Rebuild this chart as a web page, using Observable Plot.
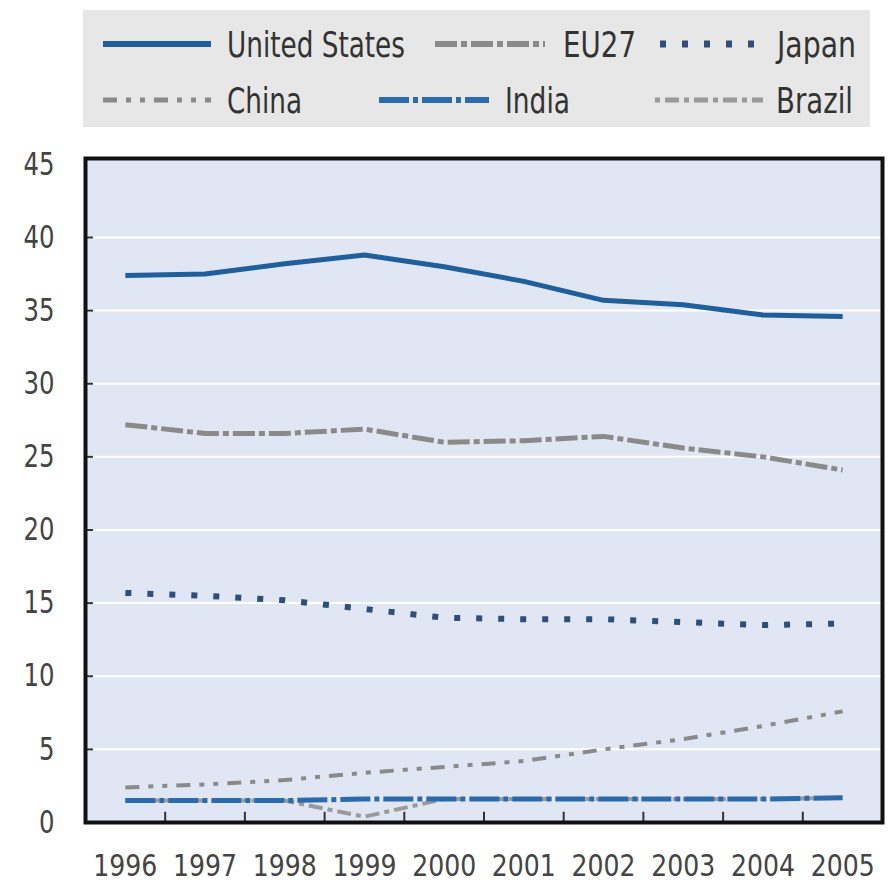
<!DOCTYPE html>
<html>
<head>
<meta charset="utf-8">
<script src="https://cdn.jsdelivr.net/npm/d3@7"></script>
<script src="https://cdn.jsdelivr.net/npm/@observablehq/plot@0.6"></script>
<style>
  html, body { margin: 0; padding: 0; background: #ffffff; }
  #legend, #chart { display: block; }
</style>
</head>
<body>
<div id="legend"></div>
<div id="chart"></div>
<script>
const years = [1996, 1997, 1998, 1999, 2000, 2001, 2002, 2003, 2004, 2005];
const unitedStates = [37.4, 37.5, 38.2, 38.8, 38.0, 37.0, 35.7, 35.4, 34.7, 34.6];
const eu27 = [27.2, 26.6, 26.6, 26.9, 26.0, 26.1, 26.4, 25.6, 25.0, 24.1];
const japan = [15.7, 15.5, 15.2, 14.6, 14.0, 13.9, 13.9, 13.7, 13.5, 13.6];
const china = [2.4, 2.6, 2.9, 3.4, 3.8, 4.2, 5.0, 5.7, 6.6, 7.6];
const india = [1.5, 1.5, 1.5, 1.6, 1.6, 1.6, 1.6, 1.6, 1.6, 1.7];
const brazil = [1.5, 1.5, 1.5, 0.4, 1.6, 1.6, 1.6, 1.6, 1.6, 1.7];
const yTicks = [0, 5, 10, 15, 20, 25, 30, 35, 40, 45];
const gridValues = [5, 10, 15, 20, 25, 30, 35, 40];

const FONT = '"Liberation Sans Narrow", "DejaVu Sans Condensed", "Arial Narrow", sans-serif';

const series = [
  {name: "United States", values: unitedStates, color: "#1f5f9c", width: 5, dash: null},
  {name: "EU27", values: eu27, color: "#8a8a8a", width: 5, dash: "22,4,6,4"},
  {name: "Japan", values: japan, color: "#2f4f78", width: 6, dash: "6,16"},
  {name: "China", values: china, color: "#8a8a8a", width: 4, dash: "14,9,5,9,5,9"},
  {name: "India", values: india, color: "#2a6aad", width: 5, dash: "30,4,5,4"},
  {name: "Brazil", values: brazil, color: "#9a9a9a", width: 4, dash: "5,5,14,5"}
];

const rows = series.map(s => s.values.map((v, i) => ({series: s.name, year: years[i], value: v})));
const byName = Object.fromEntries(series.map((s, i) => [s.name, {...s, data: rows[i]}]));

// ---------- Legend (separate SVG above the chart) ----------
const legendPos = [
  {name: "United States", sx: 103, sw: 108, tx: 227, tw: 178, row: 0},
  {name: "EU27", sx: 435, sw: 110, tx: 563, tw: 73, row: 0},
  {name: "Japan", sx: 660, sw: 98, tx: 777, tw: 79, row: 0},
  {name: "China", sx: 103, sw: 108, tx: 227, tw: 75, row: 1},
  {name: "India", sx: 379, sw: 110, tx: 505, tw: 65, row: 1},
  {name: "Brazil", sx: 655, sw: 108, tx: 776, tw: 77, row: 1}
];
const rowY = [44, 100];
const lsvg = d3.select("#legend").append("svg")
  .attr("width", 888).attr("height", 136)
  .style("display", "block");
lsvg.append("rect").attr("x", 83).attr("y", 10).attr("width", 787).attr("height", 117).attr("fill", "#e7e7e7");
legendPos.forEach(p => {
  const s = byName[p.name];
  const y = rowY[p.row];
  lsvg.append("line")
    .attr("x1", p.sx).attr("x2", p.sx + p.sw)
    .attr("y1", y).attr("y2", y)
    .attr("stroke", s.color).attr("stroke-width", s.width + 1)
    .attr("stroke-dasharray", s.dash);
  lsvg.append("text")
    .attr("x", p.tx).attr("y", y)
    .attr("dy", "0.36em")
    .attr("font-family", FONT)
    .attr("font-size", 35)
    .attr("fill", "#333")
    .attr("textLength", p.tw)
    .attr("lengthAdjust", "spacingAndGlyphs")
    .text(p.name);
});

// ---------- Chart ----------
const drawOrder = ["Brazil", "India", "China", "Japan", "EU27", "United States"];
const lineMarks = drawOrder.map(n => {
  const s = byName[n];
  return Plot.line(s.data, {
    x: "year", y: "value",
    stroke: s.color, strokeWidth: s.width,
    strokeDasharray: s.dash || undefined,
    strokeLinecap: "butt", strokeLinejoin: "round"
  });
});

const boundaries = years.slice(0, -1).map(y => y + 0.5);

const chart = Plot.plot({
  width: 888,
  height: 749,
  marginLeft: 85,
  marginRight: 6,
  marginTop: 22,
  marginBottom: 63,
  x: {domain: [1995.5, 2005.5], axis: null},
  y: {domain: [0, 45.4], axis: null},
  marks: [
    Plot.frame({fill: "#e1e6f4", stroke: null}),
    Plot.ruleY(gridValues, {stroke: "#ffffff", strokeWidth: 2}),
    ...lineMarks,
    Plot.ruleX(boundaries, {y1: 0, y2: 0.7, stroke: "#333", strokeWidth: 2}),
    Plot.ruleY(gridValues, {x1: 1995.5, x2: 1995.6, stroke: "#333", strokeWidth: 2}),
    Plot.frame({stroke: "#111", strokeWidth: 4}),
    Plot.text(years, {
      x: d => d, y: 0, text: d => String(d), dy: 44,
      fontSize: 30, fontFamily: FONT, fill: "#444", textAnchor: "middle",
      className: "xlab"
    }),
    Plot.text(yTicks, {
      x: 1995.5, y: d => d, text: d => String(d), dx: -31,
      fontSize: 32, fontFamily: FONT, fill: "#444", textAnchor: "end",
      className: "ylab"
    })
  ]
});
document.getElementById("chart").appendChild(chart);

// narrow the digits to match the condensed face of the original
d3.select(chart).selectAll("g.xlab text")
  .attr("textLength", 64).attr("lengthAdjust", "spacingAndGlyphs");
d3.select(chart).selectAll("g.ylab text")
  .each(function() {
    const n = this.textContent.length;
    d3.select(this).attr("textLength", 15.5 * n).attr("lengthAdjust", "spacingAndGlyphs");
  });
</script>
</body>
</html>
